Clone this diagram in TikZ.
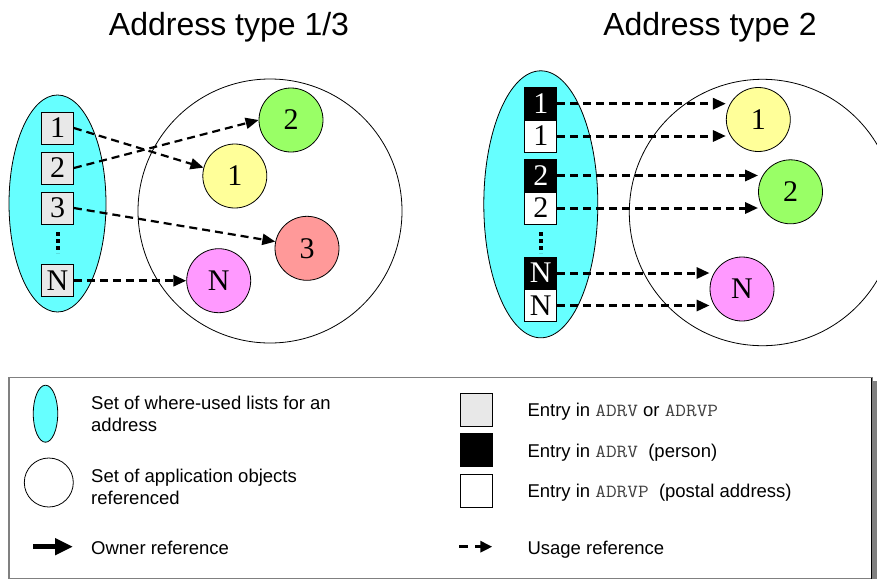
\documentclass[tikz,border=0pt]{standalone}
\usepackage{fontspec}
\setmainfont{Liberation Serif}
\setsansfont{Liberation Sans}
\newfontfamily\tablefont{Latin Modern Mono}[FakeStretch=1.12]
\newcommand{\tabname}[1]{{\tablefont\fontsize{18.5}{22}\selectfont\color{black!75}#1}}
\usetikzlibrary{shapes.geometric,arrows.meta}

\definecolor{setcyan}{HTML}{66FFFF}
\definecolor{objyellow}{HTML}{FFFF99}
\definecolor{objgreen}{HTML}{99FF66}
\definecolor{objred}{HTML}{FF9999}
\definecolor{objmagenta}{HTML}{FF99FF}
\definecolor{entrygray}{HTML}{E8E8E8}
\definecolor{framegray}{HTML}{808080}

\tikzset{
  setell/.style={ellipse, draw=black, line width=0.8pt, fill=setcyan, inner sep=0pt},
  objset/.style={circle, draw=black, line width=0.8pt, fill=white, inner sep=0pt},
  obj/.style={circle, draw=black, line width=0.8pt, minimum size=64pt, inner sep=0pt,
    font=\fontsize{30}{30}\selectfont},
  entry/.style={rectangle, draw=black, line width=0.8pt, minimum width=32pt, minimum height=32pt,
    inner sep=0pt, font=\fontsize{30}{30}\selectfont},
  anyentry/.style={entry, fill=entrygray},
  personentry/.style={entry, fill=black, text=white},
  postalentry/.style={entry, fill=white},
  usage/.style={dash pattern=on 8pt off 5pt, line width=2.2pt,
    -{Triangle[length=13pt,width=11pt]}},
  usagebold/.style={usage, line width=3pt},
  title/.style={font=\sffamily\fontsize{32}{32}\selectfont, anchor=base},
  legtext/.style={font=\sffamily\fontsize{18.5}{22.3}\selectfont, anchor=base west, align=left, inner sep=0pt},
  moredots/.style={line width=3.5pt, dash pattern=on 4pt off 3pt}
}

\begin{document}
\begin{tikzpicture}[x=1pt, y=-1pt]
\useasboundingbox (0,0) rectangle (877,579);
\clip (0,0) rectangle (877,579);

% titles
\node[title] (t1) at (229,35) {Address type 1/3};
\node[title] (t2) at (710,35) {Address type 2};

% ---------- address type 1/3 ----------
\node[setell, minimum width=97pt, minimum height=217pt] (la) at (57.5,203.5) {};
\node[objset, minimum size=264pt] (lo) at (270,211) {};

\node[anyentry] (l1) at (57.5,128) {1};
\node[anyentry] (l2) at (57.5,168) {2};
\node[anyentry] (l3) at (57.5,208) {3};
\node[anyentry] (ln) at (57.5,280.7) {N};
\draw[moredots] (58,232) -- (58,253);

\node[obj, fill=objgreen]   (c2) at (291,120) {2};
\node[obj, fill=objyellow]  (c1) at (234.8,176) {1};
\node[obj, fill=objred]     (c3) at (307,248.3) {3};
\node[obj, fill=objmagenta] (cn) at (218.7,280.7) {N};

\draw[usage] (l1.east) -- (c1.165);
\draw[usage] (l2.east) -- (c2.west);
\draw[usage] (l3.east) -- (c3.168);
\draw[usagebold] (ln.east) -- (cn.west);

% ---------- address type 2 ----------
\node[setell, minimum width=114pt, minimum height=267pt] (ra) at (540.8,204.3) {};
\node[objset, minimum size=266.4pt] (ro) at (762.5,212.5) {};

\node[personentry] (p1) at (540.8,103.7) {1};
\node[postalentry] (q1) at (540.8,136) {1};
\node[personentry] (p2) at (540.8,175.5) {2};
\node[postalentry] (q2) at (540.8,208) {2};
\node[personentry] (pn) at (540.8,273) {N};
\node[postalentry] (qn) at (540.8,305.5) {N};
\draw[moredots] (541,232) -- (541,253);

\node[obj, fill=objyellow]  (d1) at (758.3,119.5) {1};
\node[obj, fill=objgreen]   (d2) at (790.5,191.8) {2};
\node[obj, fill=objmagenta] (dn) at (742,289) {N};

\draw[usagebold] (p1.east) -- (p1.east -| d1.west);
\draw[usagebold] (q1.east) -- (q1.east -| d1.west);
\draw[usagebold] (p2.east) -- (p2.east -| d2.west);
\draw[usagebold] (q2.east) -- (q2.east -| d2.west);
\draw[usagebold] (pn.east) -- (pn.east -| dn.west);
\draw[usagebold] (qn.east) -- (qn.east -| dn.west);

% ---------- legend ----------
\fill[framegray] (872,381) rectangle (877,579);
\draw[framegray, line width=1.5pt] (9,377.5) rectangle (872,578.5);
\draw[black, line width=1pt] (871.5,377.5) -- (871.5,579);

\node[setell, minimum width=24.5pt, minimum height=57pt] (ka) at (45.5,413.7) {};
\node[legtext] (kat) at (91,431.6) {Set of where-used lists for an\\address};
\node[objset, minimum size=49pt] (ko) at (48.8,482.5) {};
\node[legtext] (kot) at (91,504.6) {Set of application objects\\referenced};
\coordinate (kw0) at (33,546.7);
\coordinate (kw1) at (73,546.7);
\draw[line width=5pt, -{Triangle[length=18pt,width=16pt]}] (kw0) -- (kw1);
\node[legtext] (kwt) at (91,554) {Owner reference};

\node[anyentry, minimum height=33pt] (kg) at (476.7,409.7) {};
\node[personentry, minimum height=33pt] (kb) at (476.7,450.3) {};
\node[postalentry, minimum height=33pt] (kp) at (476.7,490.5) {};
\node[legtext] (kgt) at (527.3,416.7) {Entry in \tabname{ADRV} or \tabname{ADRVP}};
\node[legtext] (kbt) at (527.3,457.3) {Entry in \tabname{ADRV}\ \ (person)};
\node[legtext] (kpt) at (527.3,497.3) {Entry in \tabname{ADRVP}\ \ (postal address)};
\coordinate (ku0) at (459.3,546.7);
\coordinate (ku1) at (468.3,546.7);
\coordinate (ku2) at (475,546.7);
\coordinate (ku3) at (492.3,546.7);
\draw[line width=3pt] (ku0) -- (ku1);
\draw[line width=3pt, -{Triangle[length=12pt,width=11pt]}] (ku2) -- (ku3);
\node[legtext] (kut) at (527.3,554) {Usage reference};
\end{tikzpicture}
\end{document}
